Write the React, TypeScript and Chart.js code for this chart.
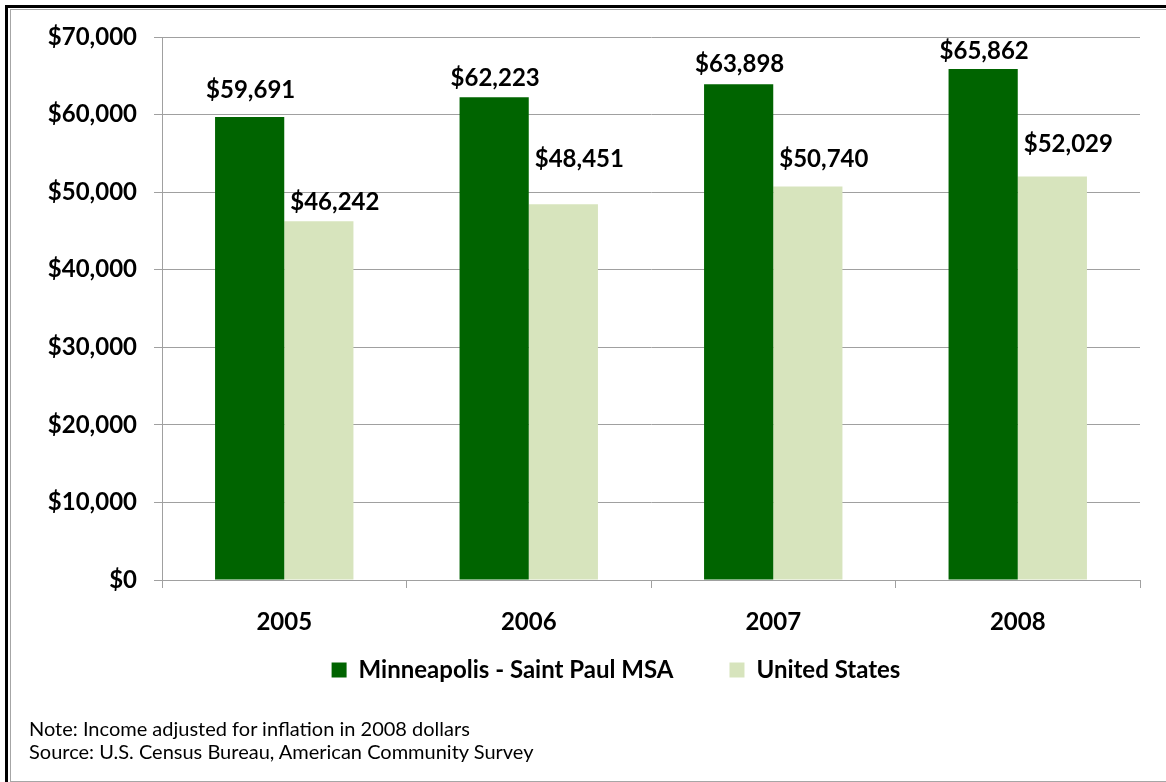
import React, { useEffect, useRef } from "react";
import { Chart, registerables } from "chart.js";

Chart.register(...registerables);

// ---- data ----
const categories = ["2005", "2006", "2007", "2008"];
const mspValues = [59691, 62223, 63898, 65862];
const usValues = [46242, 48451, 50740, 52029];
const seriesNames = ["Minneapolis - Saint Paul MSA", "United States"];
const yMin = 0;
const yMax = 70000;
const yStep = 10000;
const notes = [
  "Note: Income adjusted for inflation in 2008 dollars",
  "Source: U.S. Census Bureau, American Community Survey",
];

// ---- label placement (style only): lift of label centre above bar top, px ----
const mspLabelLift = [27, 19, 20, 18];
const usLabelLift = [19, 45, 27, 32];
const mspLabelShift = 1;
const usLabelShift = 16;
const legendCenterX = 616;
const legendCenterY = 670;

const FONT = "Lato, 'Open Sans', sans-serif";
const DARK = "#006400";
const LIGHT = "#D7E4BD";
const GRID = "#A0A0A0";
const LEGEND_FONT = 24;
const LEGEND_PAD = 56;

const fmt = (v: number) => "$" + v.toLocaleString("en-US");

const dataLabels = {
  id: "dataLabels",
  afterDatasetsDraw(chart: any) {
    const ctx = chart.ctx;
    ctx.save();
    ctx.font = `bold 24px ${FONT}`;
    ctx.fillStyle = "#000";
    ctx.textAlign = "center";
    ctx.textBaseline = "middle";
    chart.data.datasets.forEach((ds: any, di: number) => {
      const meta = chart.getDatasetMeta(di);
      const lifts = di === 0 ? mspLabelLift : usLabelLift;
      const dx = di === 0 ? mspLabelShift : usLabelShift;
      meta.data.forEach((bar: any, i: number) => {
        ctx.fillText(fmt(ds.data[i]), bar.x + dx, bar.y - lifts[i]);
      });
    });
    ctx.restore();
  },
};

const legendShift = {
  id: "legendShift",
  afterLayout(chart: any) {
    const lg = chart.legend;
    if (!lg) return;
    const dx = legendCenterX - (lg.left + lg.right) / 2;
    lg.left += dx;
    lg.right += dx;
    const wantTop = legendCenterY - LEGEND_PAD - LEGEND_FONT / 2;
    const dy = wantTop - lg.top;
    lg.top += dy;
    lg.bottom += dy;
  },
};

export default function App() {
  const ref = useRef<HTMLCanvasElement | null>(null);

  useEffect(() => {
    if (!ref.current) return;
    const chart = new Chart(ref.current, {
      type: "bar",
      data: {
        labels: categories,
        datasets: [
          {
            label: seriesNames[0],
            data: mspValues,
            backgroundColor: DARK,
            borderWidth: 0,
            barPercentage: 1,
            categoryPercentage: 0.566,
          },
          {
            label: seriesNames[1],
            data: usValues,
            backgroundColor: LIGHT,
            borderWidth: 0,
            barPercentage: 1,
            categoryPercentage: 0.566,
          },
        ],
      },
      options: {
        animation: false,
        responsive: false,
        maintainAspectRatio: false,
        devicePixelRatio: 1,
        layout: { padding: { left: 20, right: 26, top: 37, bottom: 8 } },
        plugins: {
          tooltip: { enabled: false },
          legend: {
            position: "bottom",
            align: "center",
            labels: {
              boxWidth: 15,
              boxHeight: 15,
              padding: LEGEND_PAD,
              color: "#000",
              font: { family: FONT, size: LEGEND_FONT, weight: "bold" },
            },
          },
        },
        scales: {
          x: {
            grid: {
              offset: true,
              drawOnChartArea: false,
              drawTicks: true,
              tickLength: 8,
              color: GRID,
            },
            border: { display: true, color: GRID, width: 1 },
            ticks: {
              color: "#000",
              padding: 20,
              font: { family: FONT, size: 24, weight: "bold" },
            },
            afterFit(scale: any) {
              scale.height = 55;
            },
          },
          y: {
            min: yMin,
            max: yMax,
            grid: { color: GRID, tickLength: 8, drawTicks: true },
            border: { display: true, color: GRID, width: 1 },
            ticks: {
              stepSize: yStep,
              color: "#000",
              padding: 17,
              font: { family: FONT, size: 24, weight: "bold" },
              callback: (v: any) => fmt(Number(v)),
            },
            afterFit(scale: any) {
              scale.width = 142;
            },
          },
        },
      },
      plugins: [dataLabels, legendShift],
    });
    let alive = true;
    Promise.all([
      document.fonts.load(`bold 24px Lato`),
      document.fonts.load(`20px Lato`),
    ]).then(() => {
      if (alive) chart.update();
    });
    return () => {
      alive = false;
      chart.destroy();
    };
  }, []);

  return (
    <div
      style={{
        position: "absolute",
        left: 0,
        top: 0,
        width: 1166,
        height: 782,
        background: "#fff",
        overflow: "hidden",
      }}
    >
      <canvas
        ref={ref}
        width={1166}
        height={733}
        style={{ position: "absolute", left: 0, top: 0, width: 1166, height: 733 }}
      />
      <div
        style={{
          position: "absolute",
          left: 5,
          top: 5,
          width: 1300,
          height: 1300,
          borderLeft: "3px solid #000",
          borderTop: "3px solid #000",
          pointerEvents: "none",
        }}
      />
      <div
        style={{
          position: "absolute",
          left: 10,
          top: 9,
          width: 1300,
          height: 773,
          boxSizing: "border-box",
          border: "1px solid #A6A6A6",
          pointerEvents: "none",
        }}
      />
      <div
        style={{
          position: "absolute",
          left: 29,
          top: 717,
          fontFamily: FONT,
          fontSize: 20,
          lineHeight: "23px",
          color: "#000",
          whiteSpace: "nowrap",
        }}
      >
        {notes.map((n) => (
          <div key={n}>{n}</div>
        ))}
      </div>
    </div>
  );
}
